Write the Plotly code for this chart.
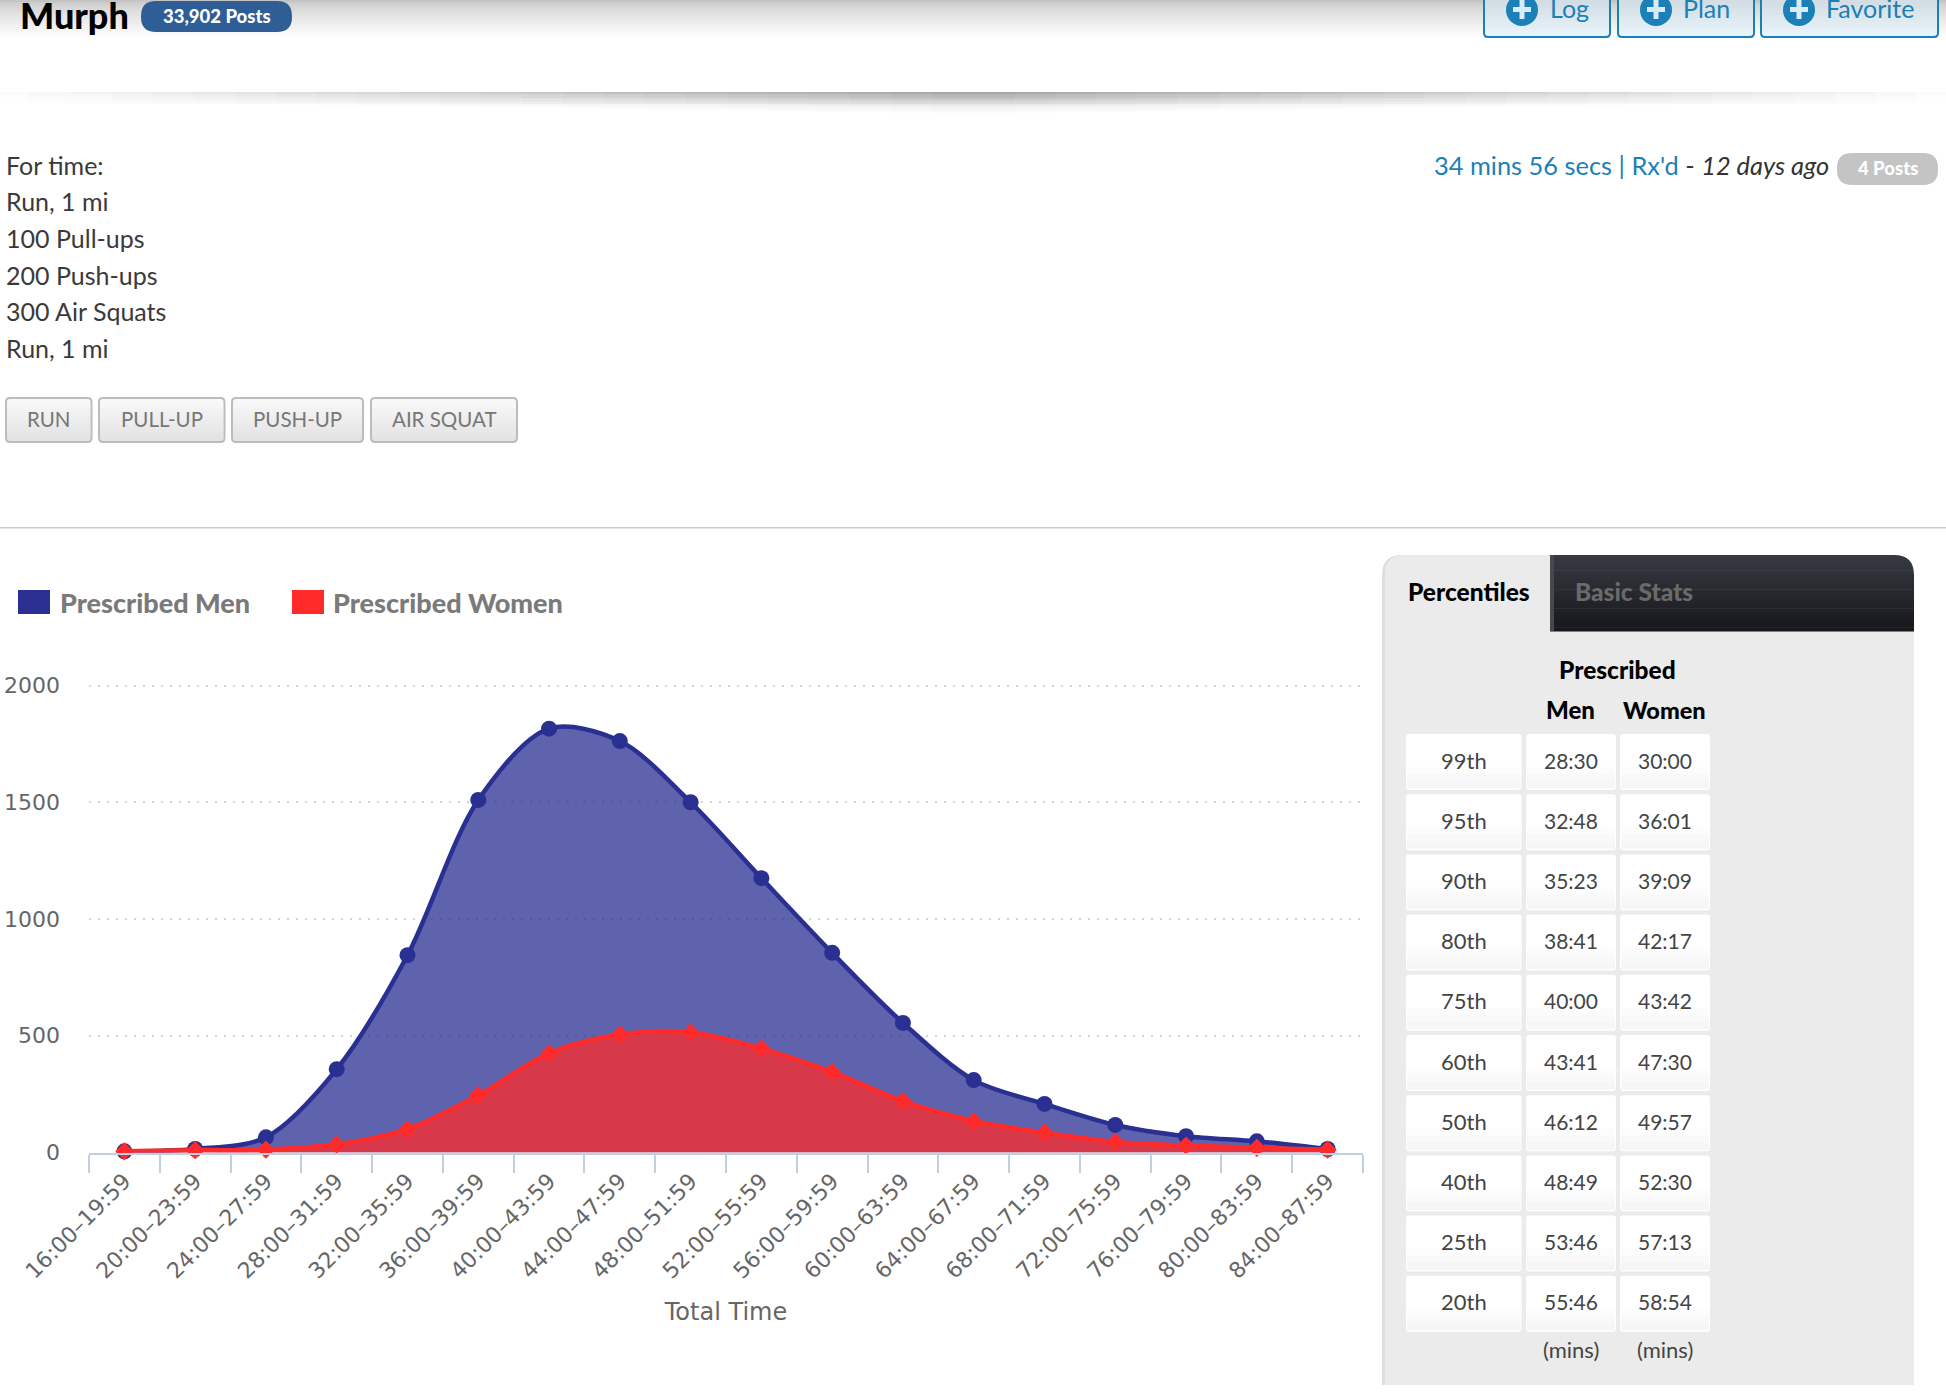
import plotly.graph_objects as go

W, H = 1946, 1394

# ---- data -------------------------------------------------------------
categories = ["16:00–19:59", "20:00–23:59", "24:00–27:59", "28:00–31:59", "32:00–35:59", "36:00–39:59",
              "40:00–43:59", "44:00–47:59", "48:00–51:59", "52:00–55:59", "56:00–59:59", "60:00–63:59",
              "64:00–67:59", "68:00–71:59", "72:00–75:59", "76:00–79:59", "80:00–83:59", "84:00–87:59"]
men_values = [5, 15, 65, 357, 845, 1510, 1815, 1762, 1500, 1175, 855, 555, 310, 208, 118, 70, 48, 15]
women_values = [5, 10, 12, 35, 100, 245, 425, 505, 515, 445, 345, 220, 135, 85, 45, 30, 20, 12]

percentiles = ["99th", "95th", "90th", "80th", "75th", "60th", "50th", "40th", "25th", "20th"]
pct_men = ["28:30", "32:48", "35:23", "38:41", "40:00", "43:41", "46:12", "48:49", "53:46", "55:46"]
pct_women = ["30:00", "36:01", "39:09", "42:17", "43:42", "47:30", "49:57", "52:30", "57:13", "58:54"]

workout_lines = ["For time:", "Run, 1 mi", "100 Pull-ups", "200 Push-ups", "300 Air Squats", "Run, 1 mi"]

# ---- styles -----------------------------------------------------------
UI = "Lato"
AX = "DejaVu Sans"
MEN = "#2a2f92"
WOMEN = "#ff2a2a"
BLUE = "#1b7fb8"

shapes, notes = [], []


def px(x):
    return x / W


def py(y):
    return 1 - y / H


def rect(x0, y0, x1, y1, fill, opacity=1):
    shapes.append(dict(type="rect", xref="paper", yref="paper", x0=px(x0), x1=px(x1), y0=py(y0), y1=py(y1),
                       fillcolor=fill, opacity=opacity, line=dict(width=0), layer="below"))


def rrect(x0, y0, x1, y1, fill="rgba(0,0,0,0)", line=None, lw=0, r=5, corners=(1, 1, 1, 1)):
    tl, tr, br, bl = [r * c for c in corners]
    P = lambda x, y: f"{px(x):.6f} {py(y):.6f}"
    d = (f"M {P(x0 + tl, y0)} L {P(x1 - tr, y0)} Q {P(x1, y0)} {P(x1, y0 + tr)} L {P(x1, y1 - br)} "
         f"Q {P(x1, y1)} {P(x1 - br, y1)} L {P(x0 + bl, y1)} Q {P(x0, y1)} {P(x0, y1 - bl)} "
         f"L {P(x0, y0 + tl)} Q {P(x0, y0)} {P(x0 + tl, y0)} Z")
    shapes.append(dict(type="path", xref="paper", yref="paper", path=d, fillcolor=fill,
                       line=dict(width=lw, color=line or "rgba(0,0,0,0)"), layer="below"))


def mix(c0, c1, t):
    a = [int(c0[i:i + 2], 16) for i in (1, 3, 5)]
    b = [int(c1[i:i + 2], 16) for i in (1, 3, 5)]
    return "#" + "".join(f"{round(p + (q - p) * t):02x}" for p, q in zip(a, b))


def vgrad(x0, y0, x1, y1, c0, c1, n=10, power=1.0):
    step = (y1 - y0) / n
    for i in range(n):
        rect(x0, y0 + i * step, x1, y0 + (i + 1) * step + 0.5, mix(c0, c1, (i / max(n - 1, 1)) ** power))


def text(x, y, s, size=24, color="#333333", bold=False, anchor="center", font=UI):
    notes.append(dict(xref="paper", yref="paper", x=px(x), y=py(y), text=s,
                      showarrow=False, xanchor=anchor, yanchor="middle",
                      font=dict(family=font, size=size, color=color, weight=900 if bold else 400),
                      borderpad=0, borderwidth=0))


# ---- header -----------------------------------------------------------
vgrad(0, 0, W, 40, "#c4c4c4", "#ffffff", n=20, power=0.65)
text(20, 15, "Murph", size=36, color="#000000", bold=True, anchor="left")
rrect(141, 1, 292, 32, fill="#2f5d96", r=15)
text(216.5, 16, "33,902 Posts", size=18.5, color="#ffffff", bold=True)

for x0, x1, label, ix, tx in [(1484, 1610, "Log", 1522, 1550), (1618, 1754, "Plan", 1656, 1683),
                              (1761, 1938, "Favorite", 1799, 1826)]:
    vgrad(x0, 0, x1, 37, "#d2dde4", "#e9f3fa", n=10)
    rrect(x0, -6, x1, 37, line=BLUE, lw=2, r=4)
    shapes.append(dict(type="circle", xref="paper", yref="paper", x0=px(ix - 16), x1=px(ix + 16),
                       y0=py(-6), y1=py(26), fillcolor=BLUE, line=dict(width=0), layer="below"))
    rect(ix - 9, 7, ix + 9, 12, "#d9ebf6")
    rect(ix - 2.5, 0, ix + 2.5, 19, "#d9ebf6")
    text(tx, 8, label, size=25, color=BLUE, anchor="left")

# soft elliptical shadow under the header: each nested layer is wider but shallower
rows, levels = 12, 24
for k in range(levels):
    half = 985 * (1 - k / levels)
    depth_rows = max(3, round(rows * (0.45 + 0.55 * (k + 1) / levels)))
    for r in range(depth_rows):
        t = r / depth_rows
        rect(973 - half, 92 + r * 2, 973 + half, 94 + r * 2, "#000000", opacity=0.0145 * (1 - t) ** 1.05)

# ---- workout text -----------------------------------------------------
for i, line in enumerate(workout_lines):
    text(6, 165 + i * 36.5, line, size=25, color="#3a3a3a", anchor="left")

for x0, x1, label in [(6, 91.5, "RUN"), (99, 224.5, "PULL-UP"), (232, 363, "PUSH-UP"), (371, 517, "AIR SQUAT")]:
    vgrad(x0 + 1, 399, x1 - 1, 441, "#f8f8f8", "#e3e3e3", n=10)
    rrect(x0, 398, x1, 442, line="#bcbcbc", lw=2, r=4)
    text((x0 + x1) / 2, 419.5, label, size=20.5, color="#777777")

text(1829, 165, f'<span style="color:{BLUE}">34 mins 56 secs | Rx\'d</span> - <i>12 days ago</i>',
     size=25.4, color="#333333", anchor="right")
rrect(1837, 153, 1938, 185, fill="#c4c4c4", r=15)
text(1887.5, 168, "4 Posts", size=18.5, color="#ffffff", bold=True)

rect(0, 527, W, 528.5, "#cccccc")

# ---- legend -----------------------------------------------------------
rect(18, 590, 50, 614, MEN)
text(60, 602, "Prescribed Men", size=27, color="#7a7a7a", bold=True, anchor="left")
rect(292, 590, 324, 614, WOMEN)
text(333, 602, "Prescribed Women", size=27, color="#7a7a7a", bold=True, anchor="left")

# ---- percentile panel -------------------------------------------------
rrect(1382, 555, 1914, 1385, fill="#dedede", r=20, corners=(1, 0, 0, 0))
rrect(1385, 555, 1914, 1385, fill="#ebebeb", r=20, corners=(1, 0, 0, 0))
vgrad(1550, 555, 1914, 631, "#363941", "#16181c", n=20)
rect(1550, 555, 1554, 631, "#45484e")
P = lambda x, y: f"{px(x):.6f} {py(y):.6f}"
shapes.append(dict(type="path", xref="paper", yref="paper", fillcolor="#ffffff", line=dict(width=0), layer="below",
                   path=f"M {P(1894, 555)} Q {P(1914, 555)} {P(1914, 575)} L {P(1915, 575)} L {P(1915, 554)} L {P(1894, 554)} Z"))
text(1469, 591, "Percentiles", size=24.5, color="#000000", bold=True)
text(1634, 591, "Basic Stats", size=24.5, color="#6a6a6a", bold=True)
text(1617.5, 669, "Prescribed", size=24.5, color="#000000", bold=True)
text(1570.6, 710, "Men", size=24, color="#000000", bold=True)
text(1664.5, 710, "Women", size=23.5, color="#000000", bold=True)

for i, (p, m, w) in enumerate(zip(percentiles, pct_men, pct_women)):
    top = 734 + i * 60.2
    for x0, x1, val, sz in [(1406, 1521.5, p, 22), (1526, 1616, m, 21), (1620, 1710, w, 21)]:
        rrect(x0, top, x1, top + 56, fill="#ffffff", r=3)
        vgrad(x0 + 1, top + 26, x1 - 1, top + 54, "#ffffff", "#f6f6f6", n=4)
        text((x0 + x1) / 2, top + 26, val, size=sz, color="#444444")
text(1570.6, 1349, "(mins)", size=22, color="#444444")
text(1664.5, 1349, "(mins)", size=22, color="#444444")

# ---- chart ------------------------------------------------------------
fig = go.Figure()
fig.add_trace(go.Scatter(x=categories, y=men_values, name="Prescribed Men", mode="lines+markers",
                         line=dict(color=MEN, width=4.5, shape="spline", smoothing=0.9),
                         marker=dict(symbol="circle", size=16, color=MEN),
                         fill="tozeroy", fillcolor="rgba(42,47,146,0.75)", cliponaxis=False))
fig.add_trace(go.Scatter(x=categories, y=women_values, name="Prescribed Women", mode="lines+markers",
                         line=dict(color=WOMEN, width=4.5, shape="spline", smoothing=0.9),
                         marker=dict(symbol="diamond", size=14, color=WOMEN),
                         fill="tozeroy", fillcolor="rgba(255,42,42,0.75)", cliponaxis=False))

fig.update_layout(
    width=W, height=H, margin=dict(l=0, r=0, t=0, b=0, pad=0), showlegend=False,
    paper_bgcolor="#ffffff", plot_bgcolor="rgba(0,0,0,0)", shapes=shapes, annotations=notes,
    xaxis=dict(domain=[px(89), px(1363)], type="category", range=[-0.5, 17.5], tickson="boundaries",
               ticks="outside", ticklen=18, tickwidth=2, tickcolor="#c0d0e0", showline=True, linecolor="#c0d0e0",
               linewidth=2, showgrid=False, zeroline=False, tickangle=-45, automargin=False,
               ticklabelstandoff=5,
               tickfont=dict(family=AX, size=22, color="#666666"),
               title=dict(text="Total Time", standoff=21, font=dict(family=AX, size=24, color="#666666"))),
    yaxis=dict(domain=[py(1152.5), py(684.1)], range=[0, 2006], tickvals=[0, 500, 1000, 1500, 2000], ticks="",
               showline=False, zeroline=False, showgrid=True, gridcolor="#d4d4d4", gridwidth=2, griddash="2px,7px",
               ticklabelstandoff=28, automargin=False,
               tickfont=dict(family=AX, size=22, color="#666666")),
)

fig.write_html("out.html", config={"displayModeBar": False},
               post_script="document.body.style.margin='0';document.body.style.overflow='hidden';")
